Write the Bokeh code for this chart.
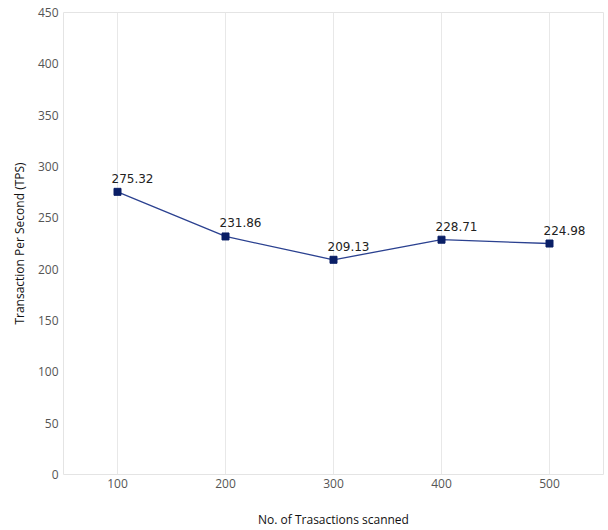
from bokeh.plotting import figure
from bokeh.models import ColumnDataSource, Range1d, FixedTicker, LabelSet
from bokeh.core.properties import value
from bokeh.embed import file_html
from bokeh.resources import INLINE

# Throughput measured per batch size
batches = ["100", "200", "300", "400", "500"]
tps = [275.32, 231.86, 209.13, 228.71, 224.98]
tps_labels = ["275.32", "231.86", "209.13", "228.71", "224.98"]
y_ticks = [0, 50, 100, 150, 200, 250, 300, 350, 400, 450]

src = ColumnDataSource(dict(x=batches, y=tps, label=tps_labels))

p = figure(
    width=608, height=530,
    x_range=batches, y_range=Range1d(0, 450),
    output_backend="svg", toolbar_location=None,
    min_border_left=63, min_border_right=5, min_border_top=12, min_border_bottom=9,
)

p.line("x", "y", source=src, line_color="#2b4190", line_width=1.3)
p.scatter("x", "y", source=src, marker="square", size=7, fill_color="#0a1f66", line_color="#0a1f66")

labels = LabelSet(x="x", y="y", text="label", source=src, x_offset=-6, y_offset=9,
                  text_align="left", text_baseline="bottom", text_font_size="12px",
                  text_color="#222222", text_font=value("DejaVu Sans"))
p.add_layout(labels)

p.outline_line_color = "#e4e4e4"
p.outline_line_width = 1
p.ygrid.grid_line_color = None
p.xgrid.grid_line_color = "#e8e8e8"

p.yaxis.ticker = FixedTicker(ticks=y_ticks)
for ax in (p.xaxis[0], p.yaxis[0]):
    ax.axis_line_color = None
    ax.major_tick_line_color = None
    ax.major_tick_out = 0
    ax.major_tick_in = 0
    ax.minor_tick_line_color = None
    ax.minor_tick_out = 0
    ax.major_label_text_font = "Open Sans"
    ax.major_label_text_font_size = "12px"
    ax.major_label_text_color = "#555555"
    ax.axis_label_text_font = "Open Sans"
    ax.axis_label_text_font_size = "12px"
    ax.axis_label_text_font_style = "normal"
    ax.axis_label_text_color = "#111111"

p.xaxis.axis_label = "No. of Trasactions scanned"
p.yaxis.axis_label = "Transaction Per Second (TPS)"
p.xaxis.major_label_standoff = 4
p.xaxis.axis_label_standoff = 20
p.yaxis.major_label_standoff = 5
p.yaxis.axis_label_standoff = 7

open("out.html", "w").write(file_html(p, INLINE))
